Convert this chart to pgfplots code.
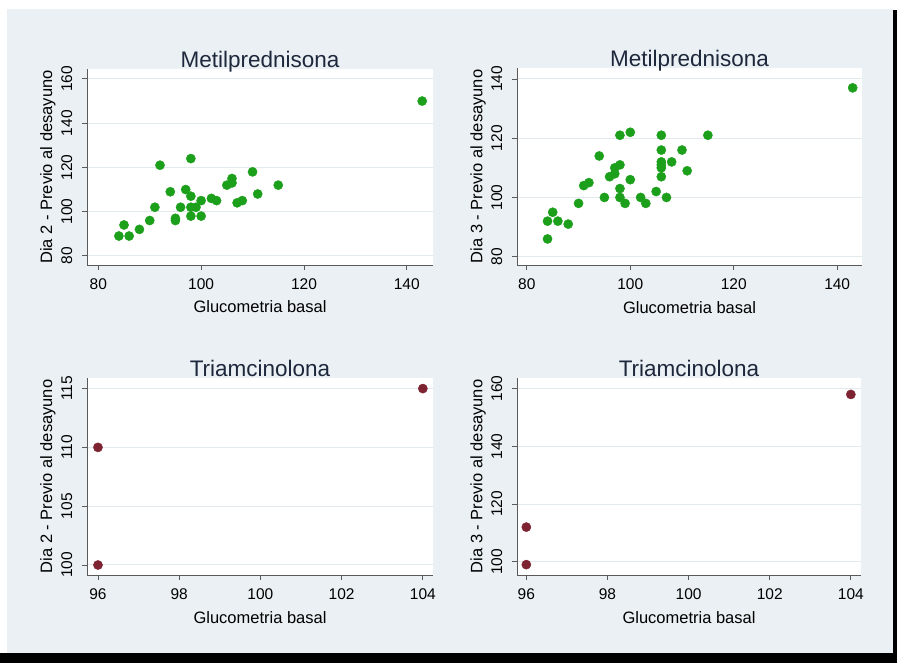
\documentclass[border=0pt]{standalone}
\usepackage{fontspec}
\setmainfont{Liberation Sans}
\usepackage{pgfplots}
\pgfplotsset{compat=1.18}
\definecolor{bg}{RGB}{234,240,243}
\definecolor{gridc}{RGB}{226,234,238}
\definecolor{mgreen}{RGB}{28,160,28}
\definecolor{mmaroon}{RGB}{125,35,50}
\definecolor{ttl}{RGB}{30,40,60}
\definecolor{axc}{RGB}{90,90,90}

\pgfplotsset{
 stpanel/.style={
  scale only axis, clip=false,
  axis lines*=left, axis line style={-, draw=axc, line width=0.9pt},
  axis background/.style={fill=white},
  tick align=outside, major tick length=5pt, tick style={draw=axc, line width=0.9pt},
  ymajorgrids, grid style={draw=gridc, line width=1pt},
  /pgf/number format/assume math mode=true,
  tick label style={font=\fontsize{15.5}{18}\selectfont},
  yticklabel style={rotate=90, anchor=south, inner sep=9.5pt},
  xticklabel style={anchor=north, yshift=-5pt},
  label style={font=\fontsize{16.5}{19}\selectfont},
  xlabel={Glucometria basal},
  xlabel style={at={(axis description cs:0.5,-0.214)}, anchor=center},
  ylabel style={at={(axis description cs:-0.113,0.5)}, anchor=center},
  title style={at={(axis description cs:0.5,1)}, anchor=base, yshift=-5pt, font=\fontsize{22.5}{26}\selectfont, text=ttl},
 },
 gm/.style={only marks, mark=*, mark size=4.6pt, color=mgreen},
 mm/.style={only marks, mark=*, mark size=4.6pt, color=mmaroon},
}

\begin{document}
\begin{tikzpicture}
\useasboundingbox (0,0) rectangle (897pt,663pt);
\fill[white] (0,0) rectangle (897pt,663pt);
\fill[bg] (7pt,10pt) rectangle (893pt,654pt);
\fill[black] (893pt,0) rectangle (897pt,653pt);
\fill[black] (0,0) rectangle (897pt,10pt);

% Panel 1
\begin{axis}[stpanel, at={(87pt,398pt)}, anchor=south west, width=346pt, height=196pt,
  xmin=77.8, xmax=145.1, ymin=75.9, ymax=164.5,
  xtick={80,100,120,140}, ytick={80,100,120,140,160},
  title={Metilprednisona}, ylabel={Dia 2 - Previo al desayuno}]
\addplot[gm] coordinates {
(84,89) (85,94) (86,89) (88,92) (90,96) (91,102) (92,121) (94,109)
(95,97) (95,96) (96,102) (97,110) (98,107) (98,124) (98,98) (98,102)
(99,102) (100,105) (100,98) (102,106) (103,105) (105,112) (106,113)
(106,115) (107,104) (108,105) (110,118) (111,108) (115,112) (143,150)};
\end{axis}

% Panel 2
\begin{axis}[stpanel, at={(517pt,398pt)}, anchor=south west, width=345pt, height=197pt,
  xmin=78.1, xmax=144.8, ymin=77.2, ymax=143.7,
  xtick={80,100,120,140}, ytick={80,100,120,140},
  title={Metilprednisona}, ylabel={Dia 3 - Previo al desayuno}]
\addplot[gm] coordinates {
(84,86) (84,92) (85,95) (86,92) (88,91) (90,98) (91,104) (92,105)
(94,114) (95,100) (96,107) (97,108) (97,110) (98,111) (98,121) (98,103)
(98,100) (99,98) (100,122) (100,106) (102,100) (103,98) (105,102)
(106,121) (106,116) (106,112) (106,111) (106,110) (106,107) (107,100)
(108,112) (110,116) (111,109) (115,121) (143,137)};
\end{axis}

% Panel 3
\begin{axis}[stpanel, at={(87pt,88pt)}, anchor=south west, width=346pt, height=197pt,
  xmin=95.73, xmax=104.25, ymin=99.15, ymax=115.9,
  xtick={96,98,100,102,104}, ytick={100,105,110,115},
  title={Triamcinolona}, ylabel={Dia 2 - Previo al desayuno}]
\addplot[mm] coordinates {(96,110) (96,100) (104,115)};
\end{axis}

% Panel 4
\begin{axis}[stpanel, at={(517pt,88pt)}, anchor=south west, width=344pt, height=197pt,
  xmin=95.77, xmax=104.25, ymin=95.4, ymax=163.7,
  xtick={96,98,100,102,104}, ytick={100,120,140,160},
  title={Triamcinolona}, ylabel={Dia 3 - Previo al desayuno}]
\addplot[mm] coordinates {(96,112) (96,99) (104,158)};
\end{axis}
\end{tikzpicture}
\end{document}
